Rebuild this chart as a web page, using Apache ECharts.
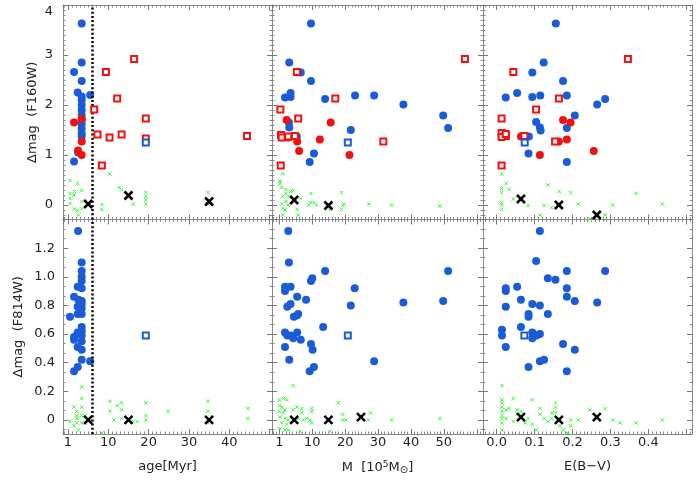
<!DOCTYPE html>
<html><head><meta charset="utf-8">
<script src="https://cdn.jsdelivr.net/npm/echarts@6/dist/echarts.min.js"></script>
<style>html,body{margin:0;padding:0;background:#fff}#c{width:700px;height:500px}</style>
</head><body><div id="c"></div>
<script>
// ---------------- DATA ----------------
// Tick labels
const ageTickVals = [0, 10, 20, 30, 40];
const ageTickText = ['1', '10', '20', '30', '40'];
const massTickVals = [0, 10, 20, 30, 40, 50];
const massTickText = ['1', '10', '20', '30', '40', '50'];
const ebvTickVals = [0, 0.1, 0.2, 0.3, 0.4];
const ebvTickText = ['0.0', '0.1', '0.2', '0.3', '0.4'];
const f160TickVals = [0, 1, 2, 3, 4];
const f160TickText = ['0', '1', '2', '3', '4'];
const f814TickVals = [0, 0.2, 0.4, 0.6, 0.8, 1.0, 1.2];
const f814TickText = ['0', '0.2', '0.4', '0.6', '0.8', '1.0', '1.2'];
const ageCut = 6; // dotted age line [Myr]

// ---- age vs dmag(F160W)
const ageF160Blue = [[3.4,3.63],[3.4,2.85],[1.5,2.66],[3.4,2.48],[2.4,2.25],[5.5,2.20],[3.4,2.17],[3.4,2.10],[3.4,2.00],[3.4,1.90],[3.4,1.80],[3.4,1.70],[3.4,1.62],[3.4,1.53],[3.4,1.43],[3.4,1.37],[2.5,1.05],[1.5,0.87]];
const ageF160Red = [[1.5,1.65],[3.4,1.72],[3.4,1.27],[2.5,1.09],[3.4,1.00]];
const ageF160RedSq = [[6.5,1.91],[9.4,2.66],[16.4,2.92],[12.2,2.13],[19.3,1.73],[7.3,1.41],[10.3,1.35],[13.3,1.41],[19.3,1.33],[8.4,0.79],[44.4,1.38]];
const ageF160BlueSq = [[19.3,1.25]];
const ageF160Ref = [[5,0.02],[15,0.19],[35,0.07]];
const ageF160Green = [[0.5,0.49],[2.4,0.43],[3.4,0.29],[1.6,0.27],[0.5,0.23],[1.5,0.2],[0.5,0.13],[0.5,0.03],[1.6,-0.08],[2.4,-0.11],[3.4,0.07],[3.4,-0.07],[2.6,-0.2],[8.4,0.01],[8.4,-0.09],[10.4,0.62],[12.7,0.35],[13.3,0.31],[16.2,0.02],[19.3,0.25],[19.3,0.17],[19.3,0.1],[19.3,0.02],[34.7,0.25],[34.7,0.02]];

// ---- age vs dmag(F814W)
const ageF814Blue = [[2.5,1.32],[3.4,1.10],[3.4,1.04],[3.4,1.00],[3.4,0.97],[2.4,0.93],[3.4,0.92],[1.5,0.86],[2.6,0.84],[3.4,0.83],[3.4,0.81],[2.4,0.79],[3.4,0.78],[2.4,0.74],[3.4,0.74],[0.5,0.72],[3.4,0.65],[3.4,0.62],[2.4,0.61],[1.5,0.58],[1.5,0.56],[3.4,0.59],[3.4,0.55],[2.4,0.51],[3.4,0.49],[3.4,0.42],[5.5,0.41],[2.4,0.37],[1.5,0.34]];
const ageF814BlueSq = [[19.3,0.59]];
const ageF814Ref = [[5,0],[15,0],[35,0]];
const ageF814Green = [[0.5,-0.01],[1.5,0.09],[2.2,0.06],[2.2,0.03],[2.2,0.01],[2.2,-0.02],[3.4,0.23],[3.4,0.15],[3.4,0.09],[3.4,0.03],[3.4,-0.02],[4.2,0.03],[4.2,-0.02],[2.6,-0.07],[1.5,-0.04],[8.4,-0.09],[10.4,0.13],[10.4,0.06],[11.4,0.0],[12.2,0.10],[13.3,0.12],[13.3,0.07],[13.3,0.01],[16.2,-0.01],[17.2,-0.01],[19.3,0.12],[19.3,0.03],[19.3,0.0],[24.9,0.06],[34.7,0.13],[34.7,0.06],[34.7,-0.02],[44.6,0.08],[44.6,0.01]];

// ---- mass vs dmag(F160W)
const massF160Blue = [[9.6,3.63],[3.0,2.85],[6.5,2.65],[9.6,2.48],[3.4,2.24],[1.7,2.15],[3.4,2.16],[13.9,2.12],[23.0,2.19],[28.8,2.19],[37.7,2.01],[49.8,1.79],[51.3,1.54],[2.9,1.65],[3.0,1.55],[5.3,1.37],[21.7,1.50],[10.5,1.03],[9.2,0.86]];
const massF160Red = [[2.2,1.70],[15.6,1.65],[12.3,1.31],[5.4,1.27],[6.0,1.08],[21.3,1.00],[2.7,1.35]];
const massF160RedSq = [[56.4,2.92],[5.3,2.66],[17.0,2.13],[0.3,1.91],[5.7,1.73],[0.5,1.40],[0.7,1.35],[2.7,1.37],[4.7,1.38],[31.6,1.27],[0.4,0.79]];
const massF160BlueSq = [[20.8,1.25]];
const massF160Ref = [[4.5,0.10],[14.9,-0.01]];
const massF160Green = [[1.0,0.62],[0.2,0.48],[0.2,0.43],[0.7,0.35],[2.0,0.31],[2.0,0.23],[3.4,0.27],[4.2,0.29],[6.5,0.13],[1.0,0.17],[2.9,0.17],[2.0,0.07],[0.7,0.02],[2.6,0.0],[1.0,-0.07],[1.7,-0.1],[1.0,-0.2],[5.4,-0.09],[5.7,-0.2],[9.6,0.23],[8.9,0.0],[9.5,0.05],[10.5,0.05],[11.3,0.0],[15.4,-0.09],[18.9,0.25],[19.2,-0.01],[19.6,0.02],[18.9,-0.09],[27.2,0.02],[34.1,0.0],[48.8,-0.02]];

// ---- mass vs dmag(F814W)
const massF814Blue = [[2.7,1.32],[2.9,1.10],[13.9,1.04],[51.3,1.04],[10.0,0.99],[9.6,0.97],[1.7,0.93],[3.4,0.93],[1.7,0.90],[22.9,0.92],[5.4,0.86],[8.1,0.84],[3.4,0.81],[2.4,0.79],[37.7,0.82],[49.8,0.83],[21.7,0.80],[4.4,0.72],[5.3,0.73],[5.7,0.74],[13.3,0.65],[1.7,0.61],[2.4,0.59],[3.4,0.59],[5.4,0.61],[4.2,0.57],[6.5,0.56],[9.6,0.53],[10.1,0.49],[1.7,0.51],[3.0,0.42],[28.8,0.41],[10.5,0.37],[9.2,0.34]];
const massF814BlueSq = [[20.8,0.59]];
const massF814Ref = [[4.5,0.0],[14.9,0.0],[24.8,0.02]];
const massF814Green = [[4.2,0.24],[0.0,0.14],[1.2,0.15],[2.2,0.14],[0.0,0.10],[0.7,0.09],[1.7,0.07],[0.0,0.06],[1.2,0.05],[0.2,0.02],[1.7,0.01],[2.7,0.0],[0.7,-0.02],[2.2,-0.03],[0.2,-0.06],[1.7,-0.07],[2.7,-0.07],[4.2,0.07],[5.3,0.09],[6.8,0.08],[6.8,0.05],[5.7,0.01],[7.3,0.0],[8.3,0.01],[9.8,0.08],[9.8,0.06],[9.3,0.0],[9.8,-0.02],[6.3,-0.08],[15.4,-0.08],[17.9,0.12],[19.2,0.04],[19.2,0.0],[20.2,0.0],[27.7,0.05],[27.0,0.0],[34.1,0.0],[48.8,0.01]];

// ---- E(B-V) vs dmag(F160W)
const ebvF160Blue = [[0.156,3.63],[0.124,2.85],[0.094,2.65],[0.175,2.48],[0.054,2.24],[0.024,2.15],[0.094,2.16],[0.115,2.19],[0.185,2.19],[0.286,2.12],[0.265,2.01],[0.206,1.79],[0.104,1.66],[0.114,1.55],[0.116,1.49],[0.185,1.54],[0.085,1.37],[0.084,1.03],[0.185,0.86]];
const ebvF160Red = [[0.175,1.70],[0.195,1.65],[0.185,1.31],[0.164,1.27],[0.114,1.00],[0.256,1.08],[0.064,1.37]];
const ebvF160RedSq = [[0.346,2.92],[0.044,2.66],[0.164,2.13],[0.104,1.91],[0.013,1.73],[0.013,1.44],[0.024,1.38],[0.013,1.36],[0.024,1.42],[0.073,1.38],[0.154,1.27],[0.013,0.79]];
const ebvF160BlueSq = [[0.074,1.25]];
const ebvF160Ref = [[0.064,0.12],[0.164,0.0],[0.264,-0.2]];
const ebvF160Green = [[0.013,0.62],[0.025,0.43],[0.013,0.33],[0.013,0.25],[0.033,0.31],[0.044,0.12],[0.013,0.05],[0.013,0.0],[0.013,-0.09],[0.083,-0.01],[0.114,-0.2],[0.125,-0.01],[0.135,0.4],[0.145,-0.05],[0.165,0.27],[0.161,0.02],[0.195,0.25],[0.215,0.02],[0.246,-0.28],[0.286,-0.2],[0.306,0.0],[0.367,0.23],[0.437,0.02]];

// ---- E(B-V) vs dmag(F814W)
const ebvF814Blue = [[0.114,1.32],[0.104,1.11],[0.185,1.04],[0.286,1.04],[0.135,0.99],[0.155,0.98],[0.024,0.92],[0.024,0.90],[0.054,0.93],[0.185,0.92],[0.185,0.86],[0.206,0.83],[0.064,0.84],[0.265,0.82],[0.094,0.81],[0.114,0.80],[0.024,0.79],[0.135,0.74],[0.084,0.74],[0.084,0.72],[0.064,0.65],[0.014,0.63],[0.014,0.59],[0.094,0.61],[0.094,0.57],[0.105,0.59],[0.114,0.60],[0.024,0.51],[0.175,0.53],[0.206,0.49],[0.114,0.41],[0.125,0.42],[0.084,0.37],[0.185,0.34]];
const ebvF814BlueSq = [[0.073,0.59]];
const ebvF814Ref = [[0.064,0.02],[0.164,0.0],[0.264,0.02]];
const ebvF814Green = [[0.014,0.24],[0.014,0.14],[0.014,0.12],[0.014,0.09],[0.014,0.06],[0.014,0.03],[0.014,0.01],[0.014,-0.02],[0.014,-0.07],[0.025,0.07],[0.025,0.01],[0.033,0.08],[0.044,0.15],[0.044,-0.01],[0.054,0.07],[0.054,0.04],[0.064,0.06],[0.075,-0.02],[0.094,0.14],[0.083,0.01],[0.094,-0.03],[0.105,-0.07],[0.114,0.08],[0.114,0.04],[0.125,0.01],[0.135,-0.01],[0.145,0.05],[0.145,0.01],[0.155,0.12],[0.155,0.09],[0.155,0.05],[0.167,-0.04],[0.176,-0.07],[0.185,-0.09],[0.195,0.0],[0.195,-0.04],[0.215,0.0],[0.246,0.07],[0.286,0.08],[0.306,0.0],[0.325,-0.02],[0.367,-0.02],[0.437,0.0]];

// ---------------- CHART ----------------
const FONT = 'DejaVu Sans';
const TXT = '#222';
const BLUE = '#1a5cd8', RED = '#f21010', GREEN = '#3ef03e';
const panels = [
  [
    {blue: ageF160Blue, red: ageF160Red, redSq: ageF160RedSq, blueSq: ageF160BlueSq, ref: ageF160Ref, green: ageF160Green},
    {blue: massF160Blue, red: massF160Red, redSq: massF160RedSq, blueSq: massF160BlueSq, ref: massF160Ref, green: massF160Green},
    {blue: ebvF160Blue, red: ebvF160Red, redSq: ebvF160RedSq, blueSq: ebvF160BlueSq, ref: ebvF160Ref, green: ebvF160Green}
  ],
  [
    {blue: ageF814Blue, red: [], redSq: [], blueSq: ageF814BlueSq, ref: ageF814Ref, green: ageF814Green},
    {blue: massF814Blue, red: [], redSq: [], blueSq: massF814BlueSq, ref: massF814Ref, green: massF814Green},
    {blue: ebvF814Blue, red: [], redSq: [], blueSq: ebvF814BlueSq, ref: ebvF814Ref, green: ebvF814Green}
  ]
];
const colLeft = [63, 272, 483], colWidth = [209, 211, 209];
const rowTop = [5, 219.5], rowHeight = [214.5, 214.5];
const xRanges = [[-1.24, 50.6], [-2.25, 61.9], [-0.036, 0.515]];
const yRanges = [[-0.29, 4.0], [-0.098, 1.40]];
const xTicks = [[ageTickVals, ageTickText], [massTickVals, massTickText], [ebvTickVals, ebvTickText]];
const yTicks = [[f160TickVals, f160TickText], [f814TickVals, f814TickText]];
const ySplit = [5, 7], yMinor = [10, 3];
const yNameGap = [24, 38], yLabelMargin = [10, 8];
const xNames = ['age[Myr]', 'M  [10{sup|5}M{sub|⊙}]', 'E(B\u2212V)'];
const yNames = ['Δmag  (F160W)', 'Δmag  (F814W)'];

function fmt(vals, text) {
  return v => { const i = vals.findIndex(t => Math.abs(t - v) < 1e-9); return i < 0 ? '' : text[i]; };
}
function axis(extra, minorSplit) {
  return Object.assign({
    type: 'value',
    axisLine: {show: true, onZero: false, lineStyle: {color: '#8a8a8a', width: 1}},
    axisTick: {show: true, inside: true, length: 5, lineStyle: {color: '#777', width: 1}},
    minorTick: {show: true, splitNumber: minorSplit, length: 2.5, lineStyle: {color: '#8a8a8a', width: 1}},
    splitLine: {show: false}, minorSplitLine: {show: false},
    axisLabel: {show: false}
  }, extra);
}
const grid = [], xAxis = [], yAxis = [], series = [];
const nameStyle = {fontFamily: FONT, fontSize: 13, color: TXT,
  rich: {sup: {fontFamily: FONT, fontSize: 9, color: TXT, verticalAlign: 'top', padding: [0, 0, 6, 0]},
         sub: {fontFamily: FONT, fontSize: 10, color: TXT, verticalAlign: 'bottom', padding: [5, 0, 0, 0]}}};
for (let r = 0; r < 2; r++) {
  for (let c = 0; c < 3; c++) {
    const g = grid.length;
    grid.push({left: colLeft[c], top: rowTop[r], width: colWidth[c], height: rowHeight[r], containLabel: false});
    const xb = {gridIndex: g, position: 'bottom', min: xRanges[c][0], max: xRanges[c][1]};
    if (r === 1) {
      xb.axisLabel = {show: true, customValues: xTicks[c][0], formatter: fmt(xTicks[c][0], xTicks[c][1]),
        margin: 2, fontFamily: FONT, fontSize: 13, color: TXT};
      xb.name = xNames[c]; xb.nameLocation = 'middle'; xb.nameGap = 26; xb.nameTextStyle = nameStyle;
    }
    xAxis.push(axis(xb, 10));
    xAxis.push(axis({gridIndex: g, position: 'top', min: xRanges[c][0], max: xRanges[c][1]}, 10));
    const yl = {gridIndex: g, position: 'left', min: yRanges[r][0], max: yRanges[r][1], splitNumber: ySplit[r]};
    if (c === 0) {
      yl.axisLabel = {show: true, customValues: yTicks[r][0], formatter: fmt(yTicks[r][0], yTicks[r][1]),
        margin: yLabelMargin[r], fontFamily: FONT, fontSize: 13, color: TXT, verticalAlignMaxLabel: r === 0 ? 'top' : null};
      yl.name = yNames[r]; yl.nameLocation = 'middle'; yl.nameGap = yNameGap[r];
      yl.nameTextStyle = {fontFamily: FONT, fontSize: 13, color: TXT};
    }
    yAxis.push(axis(yl, yMinor[r]));
    yAxis.push(axis({gridIndex: g, position: 'right', min: yRanges[r][0], max: yRanges[r][1], splitNumber: ySplit[r]}, yMinor[r]));

    const p = panels[r][c];
    const ax = {xAxisIndex: 2 * g, yAxisIndex: 2 * g};
    const green = Object.assign({type: 'scatter', data: p.green, symbol: 'path://M0 0L10 10M10 0L0 10', symbolSize: 3.5,
      itemStyle: {color: 'none', borderColor: GREEN, borderWidth: 1, opacity: 1}, z: 2}, ax);
    if (c === 0) {
      green.markLine = {silent: true, symbol: 'none', animation: false, label: {show: false},
        lineStyle: {color: '#000', type: [2, 2.2], width: 2.5, opacity: 1, cap: 'butt'}, data: [{xAxis: ageCut}]};
    }
    series.push(green);
    series.push(Object.assign({type: 'scatter', data: p.blue, symbol: 'circle', symbolSize: 8,
      itemStyle: {color: BLUE, opacity: 1}, z: 3}, ax));
    series.push(Object.assign({type: 'scatter', data: p.red, symbol: 'circle', symbolSize: 8,
      itemStyle: {color: RED, opacity: 1}, z: 4}, ax));
    series.push(Object.assign({type: 'scatter', data: p.redSq, symbol: 'rect', symbolSize: 6,
      itemStyle: {color: '#fff', borderColor: RED, borderWidth: 2, opacity: 1}, z: 5}, ax));
    series.push(Object.assign({type: 'scatter', data: p.blueSq, symbol: 'rect', symbolSize: 6,
      itemStyle: {color: '#fff', borderColor: BLUE, borderWidth: 2, opacity: 1}, z: 5}, ax));
    series.push(Object.assign({type: 'scatter', data: p.ref, symbol: 'path://M0 0L10 10M10 0L0 10', symbolSize: 8,
      itemStyle: {color: 'none', borderColor: '#000', borderWidth: 2.5, opacity: 1}, z: 6}, ax));
  }
}
const chart = echarts.init(document.getElementById('c'), null, {renderer: 'canvas'});
chart.setOption({animation: false, backgroundColor: '#fff', grid, xAxis, yAxis, series});
</script></body></html>
